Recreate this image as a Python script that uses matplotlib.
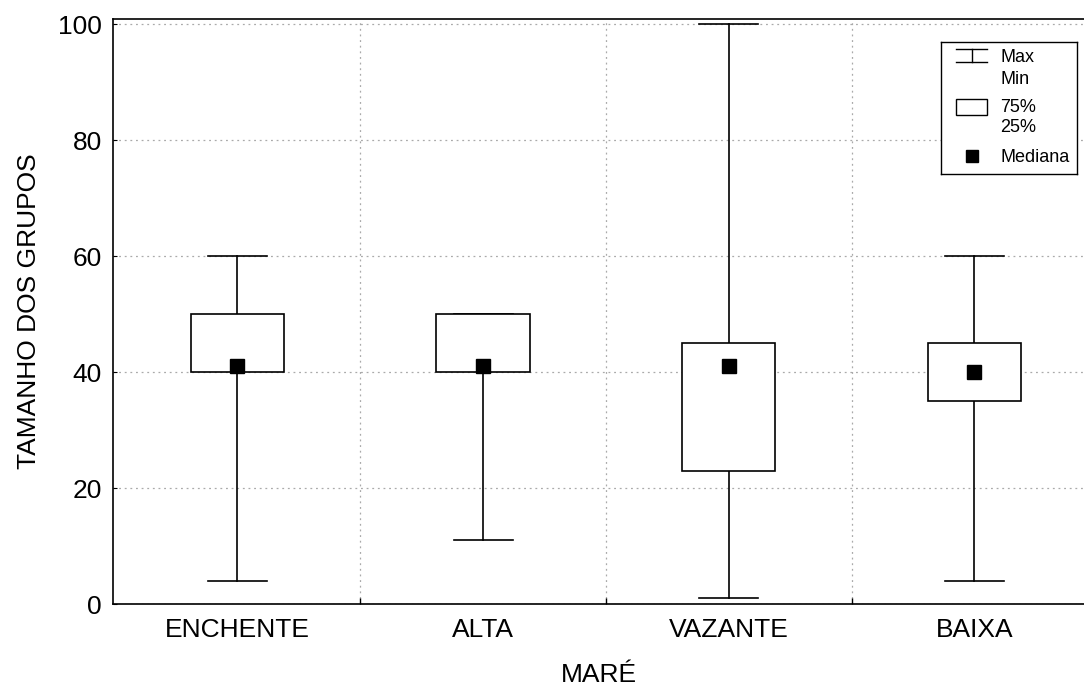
import matplotlib
matplotlib.use("Agg")
import matplotlib.pyplot as plt
from matplotlib.patches import Rectangle
from matplotlib import font_manager as fm

fam = 'Liberation Sans'
for f in fm.findSystemFonts():
    if f.endswith('LiberationSans-Regular.ttf'):
        fm.fontManager.addfont(f)
        fam = fm.FontProperties(fname=f).get_name()
        break
plt.rcParams['font.family'] = [fam, 'DejaVu Sans']

categories = ["ENCHENTE", "ALTA", "VAZANTE", "BAIXA"]
max_vals = [60, 50, 100, 60]
q3_vals = [50, 50, 45, 45]
median_vals = [41, 41, 41, 40]
q1_vals = [40, 40, 23, 35]
min_vals = [4, 11, 1, 4]
yticks = [0, 20, 40, 60, 80, 100]

W, H = 1084, 685
fig = plt.figure(figsize=(W / 100, H / 100), dpi=100)
ax = fig.add_axes([113 / W, 1 - 604 / H, (1085 - 113) / W, (604 - 19) / H])

box_w = 0.38
cap_w = 0.24
for i in range(len(categories)):
    ax.plot([i, i], [min_vals[i], q1_vals[i]], color='black', lw=1.2, zorder=3)
    ax.plot([i, i], [q3_vals[i], max_vals[i]], color='black', lw=1.2, zorder=3)
    ax.plot([i - cap_w / 2, i + cap_w / 2], [max_vals[i]] * 2, color='black', lw=1.2, zorder=3)
    ax.plot([i - cap_w / 2, i + cap_w / 2], [min_vals[i]] * 2, color='black', lw=1.2, zorder=3)
    ax.add_patch(Rectangle((i - box_w / 2, q1_vals[i]), box_w, q3_vals[i] - q1_vals[i],
                           facecolor='white', edgecolor='black', lw=1.2, zorder=4))
    ax.plot(i, median_vals[i], marker='s', ms=9.5, color='black', zorder=5, ls='none')

ax.set_xlim(-0.506, 3.45)
ax.set_ylim(0, 100.9)
ax.set_yticks(yticks)
ax.set_xticks(range(len(categories)))
ax.set_xticklabels(categories)
ax.set_xticks([0.5, 1.5, 2.5], minor=True)
ax.tick_params(axis='x', which='major', length=0, pad=10, labelsize=19)
ax.tick_params(axis='x', which='minor', length=4, direction='in', width=1)
ax.tick_params(axis='y', which='major', length=3, direction='in', pad=8, labelsize=19)
ax.grid(True, axis='y', which='major', color='#aaaaaa', ls=(0, (1.5, 3)), lw=0.9)
ax.grid(True, axis='x', which='minor', color='#aaaaaa', ls=(0, (1.5, 3)), lw=0.9)
for s in ax.spines.values():
    s.set_linewidth(1.2)
ax.set_xlabel("MARÉ", fontsize=19, labelpad=15)
ax.set_ylabel("TAMANHO DOS GRUPOS", fontsize=19, labelpad=12)

# legend box (drawn manually in pixel units)
lx0, ly0, lx1, ly1 = 941, 42, 1077, 174
lg = fig.add_axes([lx0 / W, 1 - ly1 / H, (lx1 - lx0) / W, (ly1 - ly0) / H])
lg.set_xlim(lx0, lx1)
lg.set_ylim(ly1, ly0)
lg.set_xticks([])
lg.set_yticks([])
for s in lg.spines.values():
    s.set_linewidth(1.0)
lg.plot([956, 987], [49, 49], color='black', lw=1)
lg.plot([956, 987], [62, 62], color='black', lw=1)
lg.plot([971.5, 971.5], [49, 62], color='black', lw=1)
lg.add_patch(Rectangle((956, 99), 31, 16, facecolor='white', edgecolor='black', lw=1))
lg.plot(971.5, 156, marker='s', ms=8, color='black')
fs = 13
lg.text(1000, 58, "Max", fontsize=fs, va='center')
lg.text(1000, 79, "Min", fontsize=fs, va='center')
lg.text(1000, 107.5, "75%", fontsize=fs, va='center')
lg.text(1000, 128, "25%", fontsize=fs, va='center')
lg.text(1000, 157, "Mediana", fontsize=fs, va='center')

fig.savefig("out.png", dpi=100)
